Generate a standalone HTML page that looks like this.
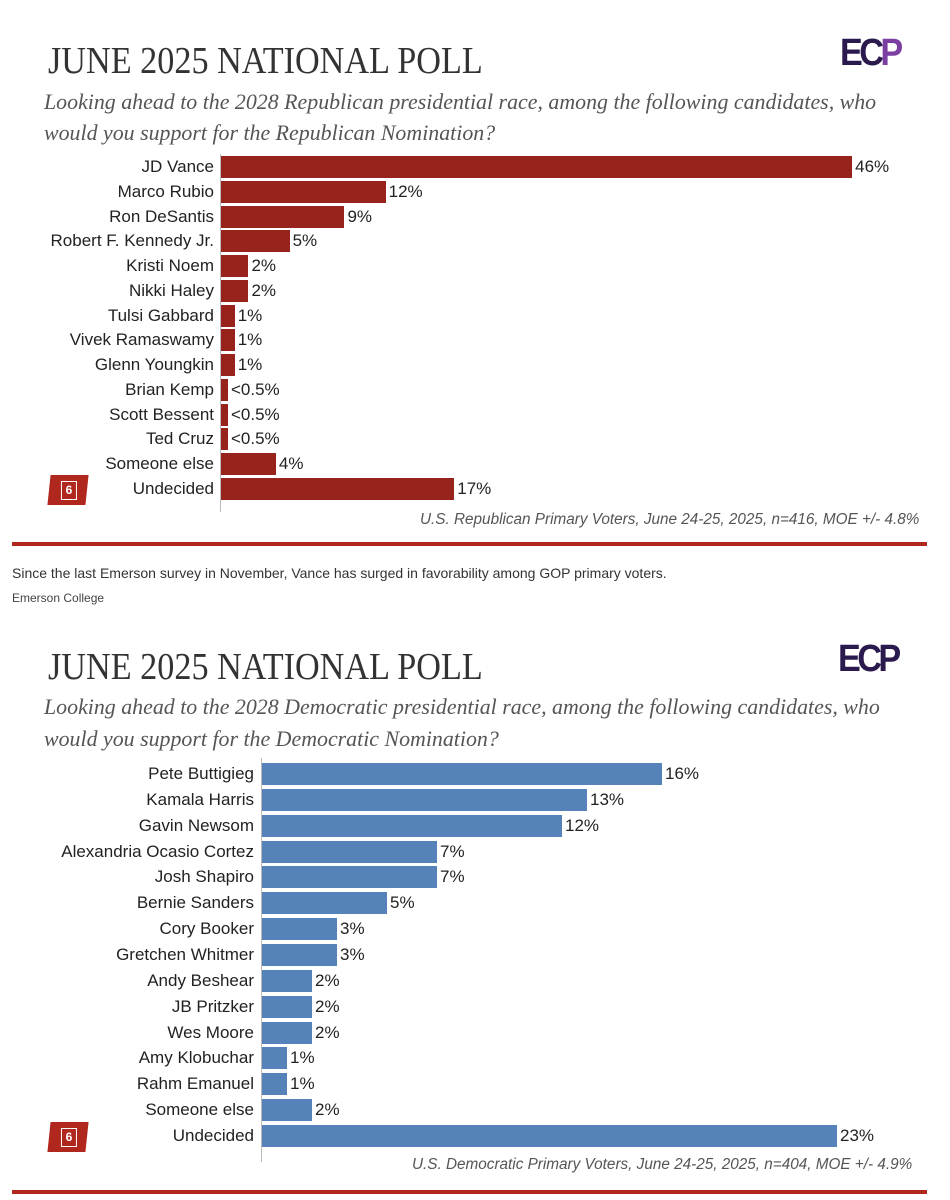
<!DOCTYPE html>
<html><head><meta charset="utf-8"><style>
body{margin:0;background:#fff;width:950px;height:1200px;position:relative;overflow:hidden;font-family:"Liberation Sans",sans-serif}
.t{position:absolute;font-family:"Liberation Serif",serif;color:#333;white-space:nowrap}
.title{font-size:38px;transform:scaleX(.9);transform-origin:left top}
.sub{font-style:italic;font-size:22px;color:#555;transform:scaleX(.995);transform-origin:left top}
.lab{position:absolute;text-align:right;font-size:17px;color:#222;white-space:nowrap;line-height:22px}
.bar{position:absolute;height:22px}
.val{position:absolute;font-size:17px;color:#222;line-height:22px}
.note{position:absolute;font-style:italic;font-size:15.3px;color:#555;white-space:nowrap}
.logo{position:absolute;font-family:"Liberation Sans",sans-serif;font-weight:bold;font-size:38px;color:#2b1a4d;letter-spacing:-4px;transform:scaleX(.9);transform-origin:left top;line-height:34px}
.badge{position:absolute;width:38px;height:30px;background:#b0271e;transform:skewX(-6deg)}
.badge span{position:absolute;left:12px;top:6px;width:14px;height:17px;border:1.5px solid #fff;color:#fff;font-size:12px;font-weight:bold;text-align:center;line-height:17px;transform:skewX(6deg)}
</style></head><body>

<div class="t title" style="left:48px;top:39px">JUNE 2025 NATIONAL POLL</div>
<div class="logo" style="left:840px;top:36px">EC<span style="color:#7a3fa0">P</span></div>
<div class="t sub" style="left:44px;top:89px">Looking ahead to the 2028 Republican presidential race, among the following candidates, who</div>
<div class="t sub" style="left:44px;top:120px">would you support for the Republican Nomination?</div>
<div style="position:absolute;left:220px;top:154px;width:1px;height:358px;background:#bbb"></div>
<div id="rep"></div>
<div class="badge" style="left:49px;top:475px"><span>6</span></div>
<div class="note" style="left:420px;top:511px">U.S. Republican Primary Voters, June 24-25, 2025, n=416, MOE +/- 4.8%</div>
<div style="position:absolute;left:12px;top:542px;width:915px;height:4px;background:#b0271e"></div>
<div style="position:absolute;left:12px;top:565px;font-size:14px;color:#333">Since the last Emerson survey in November, Vance has surged in favorability among GOP primary voters.</div>
<div style="position:absolute;left:12px;top:591px;font-size:12px;color:#444">Emerson College</div>

<div class="t title" style="left:48px;top:645px">JUNE 2025 NATIONAL POLL</div>
<div class="logo" style="left:838px;top:642px">EC<span style="color:#2b1a4d">P</span></div>
<div class="t sub" style="left:44px;top:694px">Looking ahead to the 2028 Democratic presidential race, among the following candidates, who</div>
<div class="t sub" style="left:44px;top:726px">would you support for the Democratic Nomination?</div>
<div style="position:absolute;left:261px;top:758px;width:1px;height:404px;background:#bbb"></div>
<div id="dem"></div>
<div class="badge" style="left:49px;top:1122px"><span>6</span></div>
<div class="note" style="left:412px;top:1156px">U.S. Democratic Primary Voters, June 24-25, 2025, n=404, MOE +/- 4.9%</div>
<div style="position:absolute;left:12px;top:1190px;width:915px;height:4px;background:#b0271e"></div>

<script>
function draw(id,rows,x0,y0,dy,px,color,labR){
 var h='';
 rows.forEach(function(r,i){
  var y=y0+i*dy-11, w=Math.max(r[1]*px,7);
  h+='<div class="lab" style="right:'+(950-labR)+'px;top:'+y+'px">'+r[0]+'</div>';
  h+='<div class="bar" style="left:'+x0+'px;top:'+y+'px;width:'+w+'px;background:'+color+'"></div>';
  h+='<div class="val" style="left:'+(x0+w+3)+'px;top:'+y+'px">'+(r[2]||r[1]+'%')+'</div>';
 });
 document.getElementById(id).innerHTML=h;
}
draw('rep',[["JD Vance",46],["Marco Rubio",12],["Ron DeSantis",9],["Robert F. Kennedy Jr.",5],["Kristi Noem",2],["Nikki Haley",2],["Tulsi Gabbard",1],["Vivek Ramaswamy",1],["Glenn Youngkin",1],["Brian Kemp",0.5,"&lt;0.5%"],["Scott Bessent",0.5,"&lt;0.5%"],["Ted Cruz",0.5,"&lt;0.5%"],["Someone else",4],["Undecided",17]],221,167,24.77,13.72,"#98231c",214);
draw('dem',[["Pete Buttigieg",16],["Kamala Harris",13],["Gavin Newsom",12],["Alexandria Ocasio Cortez",7],["Josh Shapiro",7],["Bernie Sanders",5],["Cory Booker",3],["Gretchen Whitmer",3],["Andy Beshear",2],["JB Pritzker",2],["Wes Moore",2],["Amy Klobuchar",1],["Rahm Emanuel",1],["Someone else",2],["Undecided",23]],262,774,25.86,25,"#5583b9",254);
</script>
</body></html>
